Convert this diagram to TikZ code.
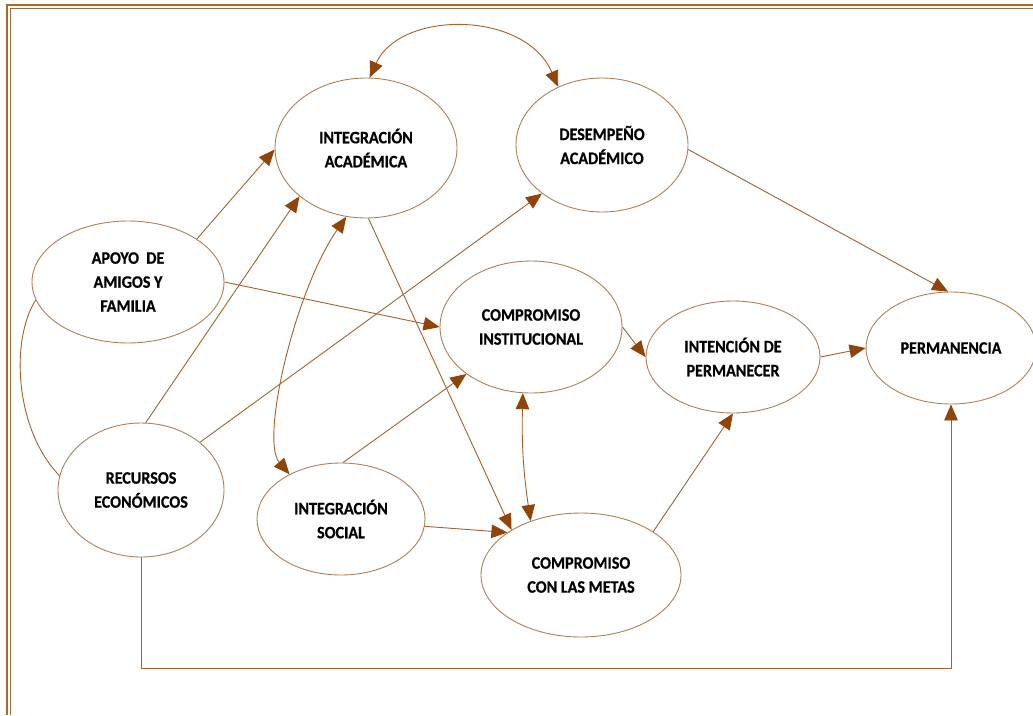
\documentclass[tikz,border=0pt]{standalone}
\usepackage{fontspec}
\newfontfamily\lab{Carlito}[FakeStretch=0.92, BoldFeatures={FakeBold=0.6}]
\usetikzlibrary{shapes.geometric,arrows.meta}
\definecolor{frameC}{RGB}{184,101,27}
\definecolor{frameT}{RGB}{150,110,70}
\definecolor{lineC}{RGB}{165,98,45}
\definecolor{headC}{RGB}{145,68,8}
\definecolor{ellC}{RGB}{176,128,88}
\tikzset{
  ell/.style={ellipse, draw=ellC, line width=0.9pt, fill=white, inner sep=0pt,
    align=center, font=\lab\bfseries\fontsize{17.5}{24}\selectfont},
  conn/.style={draw=lineC, line width=0.9pt},
  tip/.tip={Triangle[length=16pt,width=13.5pt,color=headC]},
  arr/.style={conn, -tip},
  darr/.style={conn, tip-tip}
}
\begin{document}
\begin{tikzpicture}[x=1pt,y=-1pt]
\useasboundingbox (0,0) rectangle (1033,715);
\fill[white] (0,0) rectangle (1033,715);
% frame
\draw[frameC, line width=2.2pt] (1033,5) -- (7,5) -- (7,715);
\draw[frameT, line width=0.6pt] (1033,7.8) -- (9.8,7.8) -- (9.8,715);
% nodes
\node[ell, minimum width=182pt, minimum height=140pt] (ia) at (366,148) {INTEGRACIÓN\\ACADÉMICA};
\node[ell, minimum width=172pt, minimum height=134pt] (ds) at (602,145) {DESEMPEÑO\\ACADÉMICO};
\node[ell, minimum width=192pt, minimum height=122pt] (ap) at (128,282) {APOYO~~DE\\AMIGOS Y\\FAMILIA};
\node[ell, minimum width=166pt, minimum height=134pt] (rc) at (141,490) {RECURSOS\\ECONÓMICOS};
\node[ell, minimum width=168pt, minimum height=112pt] (is) at (341,519) {INTEGRACIÓN\\SOCIAL};
\node[ell, minimum width=200pt, minimum height=124pt] (cm) at (581,575) {COMPROMISO\\CON LAS METAS};
\node[ell, minimum width=182pt, minimum height=132pt] (ci) at (531,327) {COMPROMISO\\INSTITUCIONAL};
\node[ell, minimum width=174pt, minimum height=112pt] (in) at (733,357) {INTENCIÓN DE\\PERMANECER};
\node[ell, minimum width=170pt, minimum height=112pt] (pm) at (951,348) {PERMANENCIA};
\coordinate (bot) at (500,668);
% connectors
\draw[darr] (ia.87) .. controls (400,10) and (525,10) .. (ds.127);
\draw[arr] (ap.32) -- (ia.181);
\draw[arr] (rc.86) -- (ia.216);
\draw[darr] (ia.254) .. controls (295,290) and (260,440) .. (is.139);
\draw[arr] (ia.272) -- (cm.147);
\draw[arr] (rc.39) -- (ds.219);
\draw[arr] (ap.0) -- (ci.180);
\draw[arr] (is.88) -- (ci.216);
\draw[darr] (ci.263) to[bend right=5] (cm.133);
\draw[arr] (is.355) -- (cm.150);
\draw[arr] (ci.0) -- (in.180);
\draw[arr] (in.0) -- (pm.180);
\draw[arr] (ds.357) -- (pm.93);
\draw[arr] (cm.31) -- (in.270);
\draw[arr] (rc.south) |- (bot) -| (pm.south);
\draw[conn] (ap.191) .. controls (10,340) and (15,430) .. (rc.170);
\end{tikzpicture}
\end{document}
